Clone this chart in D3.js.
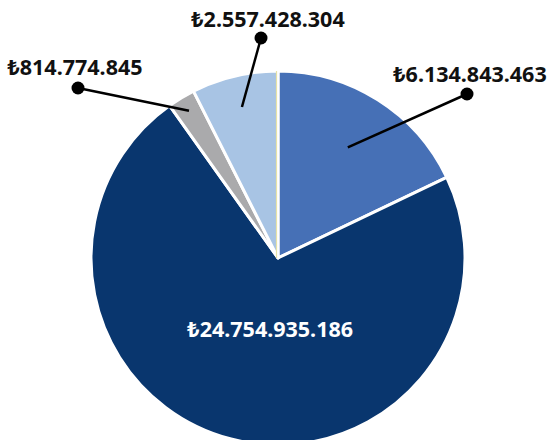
<!DOCTYPE html>
<html>
<head>
<meta charset="utf-8">
<script src="https://cdn.jsdelivr.net/npm/d3@7"></script>
<style>
    body { margin: 0; background: #fff; }
    .value-label { font-family: "Noto Sans", "DejaVu Sans", sans-serif; font-weight: 700; }
</style>
</head>
<body>
<div id="chart"></div>
<script>
// slices in drawing order, clockwise from 12 o'clock
const categories = ["a", "b", "c", "d"];
const values = [6134843463, 24754935186, 814774845, 2557428304];
const labels = ["₺6.134.843.463", "₺24.754.935.186", "₺814.774.845", "₺2.557.428.304"];

const colors = ["#4670B6", "#09366E", "#AAAAAC", "#A8C4E4"];

const width = 548, height = 440;
const cx = 278, cy = 258, radius = 187;

// leader layout: null = label sits inside slice
const leaders = [
    {inner: 0.70, dot: [189, -164], text: [3, -12]},
    null,
    {inner: 0.92, dot: [-200, -170], text: [-3, -13]},
    {inner: 0.83, dot: [-17, -220], text: [7, -11]}
];

const data = categories.map((c, i) => ({key: c, value: values[i], label: labels[i], color: colors[i], leader: leaders[i]}));

const svg = d3.select("#chart").append("svg")
    .attr("width", width)
    .attr("height", height);

const g = svg.append("g").attr("transform", `translate(${cx},${cy})`);

const pie = d3.pie().sort(null).value(d => d.value);
const arc = d3.arc().innerRadius(0).outerRadius(radius);
const arcs = pie(data);

g.selectAll(".slice")
    .data(arcs)
    .enter()
    .append("path")
    .attr("class", "slice")
    .attr("d", arc)
    .attr("fill", d => d.data.color)
    .attr("stroke", "#fff")
    .attr("stroke-width", 3)
    .attr("stroke-linejoin", "round");

// thin cream seam at the start angle
const a0 = arcs[0].startAngle;
g.append("line")
    .attr("x1", 0).attr("y1", 0)
    .attr("x2", Math.sin(a0) * radius)
    .attr("y2", -Math.cos(a0) * radius)
    .attr("stroke", "#E6E2A6")
    .attr("stroke-width", 1.2)
    .attr("transform", "translate(-1.5,0)");

const pointAt = (angle, r) => [Math.sin(angle) * r, -Math.cos(angle) * r];

arcs.forEach(d => {
    const mid = (d.startAngle + d.endAngle) / 2;
    const lead = d.data.leader;
    if (!lead) {
        const c = pointAt(mid, radius * 0.38);
        g.append("text")
            .attr("class", "value-label")
            .attr("x", c[0] + 10)
            .attr("y", c[1] + 10)
            .attr("text-anchor", "middle")
            .attr("fill", "#fff")
            .attr("font-size", 21.5)
            .text(d.data.label);
        return;
    }
    const p = pointAt(mid, radius * lead.inner);
    g.append("line")
        .attr("x1", p[0]).attr("y1", p[1])
        .attr("x2", lead.dot[0]).attr("y2", lead.dot[1])
        .attr("stroke", "#000")
        .attr("stroke-width", 2.5);
    g.append("circle")
        .attr("cx", lead.dot[0])
        .attr("cy", lead.dot[1])
        .attr("r", 6.5)
        .attr("fill", "#000");
    g.append("text")
        .attr("class", "value-label")
        .attr("x", lead.dot[0] + lead.text[0])
        .attr("y", lead.dot[1] + lead.text[1])
        .attr("text-anchor", "middle")
        .attr("fill", "#111")
        .attr("font-size", 21.5)
        .text(d.data.label);
});
</script>
</body>
</html>
